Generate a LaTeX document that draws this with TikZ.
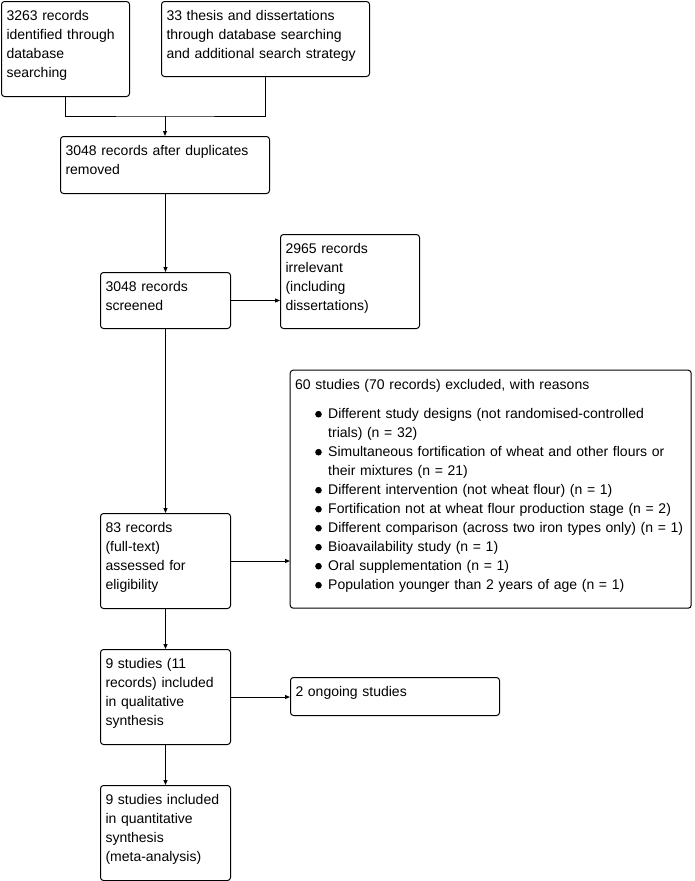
\documentclass[tikz,border=0pt]{standalone}
\usepackage{fontspec}
\setmainfont{Liberation Sans}
\usetikzlibrary{arrows.meta}

% bullet and one excluded reason
\newcommand{\reasonbullet}{\tikz[baseline=-4pt]\fill (0,0) circle (3.3pt);}
\newcommand{\reason}[1]{\par\noindent\hangindent=33pt\hangafter=1\hspace*{20pt}\makebox[13pt][l]{\reasonbullet}#1\par}

\begin{document}
\begin{tikzpicture}[x=1pt, y=-1pt, line width=1pt,
    flowbox/.style={draw, rounded corners=3pt, anchor=north west, align=left,
      inner xsep=5pt, inner ysep=9pt, text height=10pt,
      font={\fontsize{14}{19}\selectfont}},
    flow/.style={-{Triangle[length=5pt, width=4pt]}}]
  \useasboundingbox (0,0) rectangle (694,881);

  % ================= identification =================
  \node[flowbox, text width=118pt, text depth=67pt] (ident) at (1,1)
    {3263 records\\identified through\\database\\searching};
  \node[flowbox, text width=198pt, text depth=47pt] (thesis) at (161,1)
    {33 thesis and dissertations\\through database searching\\and additional search strategy};
  \node[flowbox, text width=199pt, text depth=29pt] (dedup) at (60,136)
    {3048 records after duplicates\\removed};

  % ================= screening =================
  \node[flowbox, text width=120pt, text depth=28pt] (screen) at (100,272)
    {3048 records\\screened};
  \node[flowbox, text width=129pt, text depth=66pt] (irrel) at (280,234)
    {2965 records\\irrelevant\\(including\\dissertations)};

  % ================= eligibility =================
  \node[flowbox, text width=120pt, text depth=67pt] (full) at (100,513)
    {83 records\\(full-text)\\assessed for\\eligibility};
  \node[flowbox, text width=391pt, text depth=210pt] (excl) at (290,370)
    {60 studies (70 records) excluded, with reasons\par\vspace{10pt}
     \reason{Different study designs (not randomised-controlled\newline trials) (n = 32)}
     \reason{Simultaneous fortification of wheat and other flours or\newline their mixtures (n = 21)}
     \reason{Different intervention (not wheat flour) (n = 1)}
     \reason{Fortification not at wheat flour production stage (n = 2)}
     \reason{Different comparison (across two iron types only) (n = 1)}
     \reason{Bioavailability study (n = 1)}
     \reason{Oral supplementation (n = 1)}
     \reason{Population younger than 2 years of age (n = 1)}};

  % ================= included =================
  \node[flowbox, text width=120pt, text depth=67pt] (qual) at (100,649)
    {9 studies (11\\records) included\\in qualitative\\synthesis};
  \node[flowbox, text width=199pt, text depth=10pt] (ongoing) at (290,677)
    {2 ongoing studies};
  \node[flowbox, text width=120pt, text depth=67pt] (quant) at (100,785)
    {9 studies included\\in quantitative\\synthesis\\(meta-analysis)};

  % ================= connectors =================
  \coordinate (merge) at (165,116);
  \draw (ident.south) |- (merge) -| (thesis.south);
  \draw[flow] (merge) -- (merge |- dedup.north);
  \draw[flow] (screen.north |- dedup.south) -- (screen.north);
  \draw[flow] (screen.east) -- (screen.east -| irrel.west);
  \draw[flow] (screen.south) -- (full.north);
  \draw[flow] (full.east) -- (full.east -| excl.west);
  \draw[flow] (full.south) -- (qual.north);
  \draw[flow] (qual.east) -- (qual.east -| ongoing.west);
  \draw[flow] (qual.south) -- (quant.north);
\end{tikzpicture}
\end{document}
